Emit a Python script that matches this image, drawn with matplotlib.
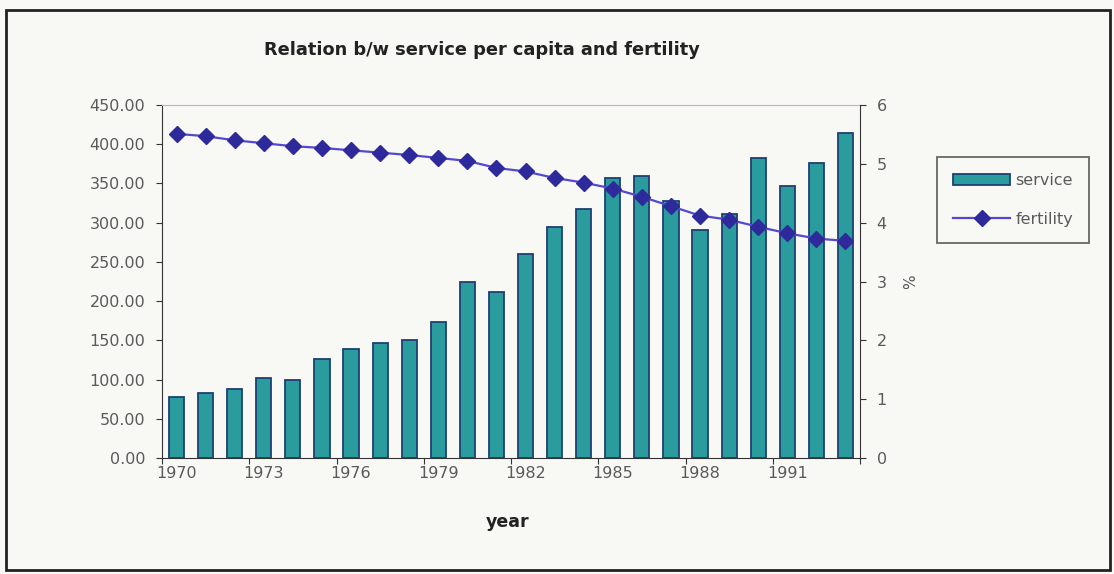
import matplotlib
matplotlib.use("Agg")
import matplotlib.pyplot as plt
from matplotlib.patches import Rectangle
import numpy as np

years = list(range(1970, 1994))
service = [78, 83, 87.5, 101.5, 99.5, 126, 138.5, 147, 150.5, 174, 224,
           211, 259.5, 294, 317, 356.5, 359.5, 327, 291, 311, 382, 347, 376, 414]
fertility = [5.51, 5.47, 5.40, 5.35, 5.30, 5.27, 5.23, 5.19, 5.15, 5.10, 5.05,
             4.93, 4.87, 4.76, 4.68, 4.58, 4.44, 4.28, 4.12, 4.05, 3.93, 3.82, 3.73, 3.69]
left_ticks = [0, 50, 100, 150, 200, 250, 300, 350, 400, 450]
right_ticks = [0, 1, 2, 3, 4, 5, 6]
year_labels = [1970, 1973, 1976, 1979, 1982, 1985, 1988, 1991]

bg = "#f8f8f4"
bar_fill = "#2b9c9e"
bar_edge = "#1d3f72"
line_col = "#5548d0"
marker_col = "#2f2a9c"
tick_txt = "#5a5a5a"

plt.rcParams["font.family"] = ["DejaVu Sans"]

fig = plt.figure(figsize=(11.14, 5.74), dpi=100, facecolor=bg)
ax = fig.add_axes([162 / 1114, 116 / 574, 698 / 1114, 353 / 574], facecolor=bg)

x = np.arange(len(years))
bars = ax.bar(x, service, width=0.52, color=bar_fill, edgecolor=bar_edge,
              linewidth=1.3, label="service", zorder=2)
ax.set_xlim(-0.5, len(years) - 0.5)
ax.set_ylim(0, 450)
ax.set_yticks(left_ticks)
ax.set_yticklabels([f"{v:.2f}" for v in left_ticks], color=tick_txt, fontsize=11.5)

# category ticks sit on the boundaries every third year, labels on the centres
ax.set_xticks(np.arange(-0.5, len(years), 3))
ax.set_xticklabels([])
ax.tick_params(axis="x", which="major", length=4, direction="out", color="#333333")
ax.set_xticks([years.index(y) for y in year_labels], minor=True)
ax.set_xticklabels([str(y) for y in year_labels], minor=True,
                   color=tick_txt, fontsize=11.5)
ax.tick_params(axis="x", which="minor", length=0, pad=6)
ax.tick_params(axis="y", length=4, direction="out", color="#333333", pad=8)

ax.spines["top"].set_color("#d8a2d8")
ax.spines["right"].set_visible(False)
ax.spines["left"].set_color("#333333")
ax.spines["bottom"].set_color("#333333")

ax2 = ax.twinx()
line, = ax2.plot(x, fertility, color=line_col, linewidth=1.6, marker="D",
                 markersize=8, markerfacecolor=marker_col, markeredgecolor=marker_col,
                 label="fertility", zorder=3)
ax2.set_ylim(0, 6)
ax2.set_yticks(right_ticks)
ax2.set_yticklabels([str(v) for v in right_ticks], color=tick_txt, fontsize=11.5)
ax2.tick_params(axis="y", length=4, direction="out", color="#333333", pad=8)
ax2.spines["right"].set_color("#333333")
ax2.spines["top"].set_visible(False)
ax2.spines["left"].set_visible(False)
ax2.spines["bottom"].set_visible(False)
ax2.set_ylabel("%", color=tick_txt, fontsize=11, labelpad=12)

fig.text(482 / 1114, 1 - 50 / 574, "Relation b/w service per capita and fertility",
         ha="center", va="center", fontsize=12.8, fontweight="bold", color="#222222")
fig.text(508 / 1114, 1 - 522 / 574, "year", ha="center", va="center",
         fontsize=12.5, fontweight="bold", color="#222222")

leg = fig.legend([bars, line], ["service", "fertility"],
                 loc="upper left", bbox_to_anchor=(937 / 1114, 1 - 157 / 574),
                 frameon=True, fancybox=False, fontsize=11.5,
                 handlelength=3.6, borderpad=1.0, labelspacing=1.5,
                 handletextpad=0.3, borderaxespad=0, facecolor=bg)
leg.get_frame().set_edgecolor("#444444")
leg.get_frame().set_linewidth(1.3)
for t in leg.get_texts():
    t.set_color(tick_txt)

fig.patches.append(Rectangle((6 / 1114, 4 / 574), 1104 / 1114, 560 / 574,
                             transform=fig.transFigure, fill=False,
                             edgecolor="#222222", linewidth=2))

fig.savefig("out.png", dpi=100, facecolor=bg)
